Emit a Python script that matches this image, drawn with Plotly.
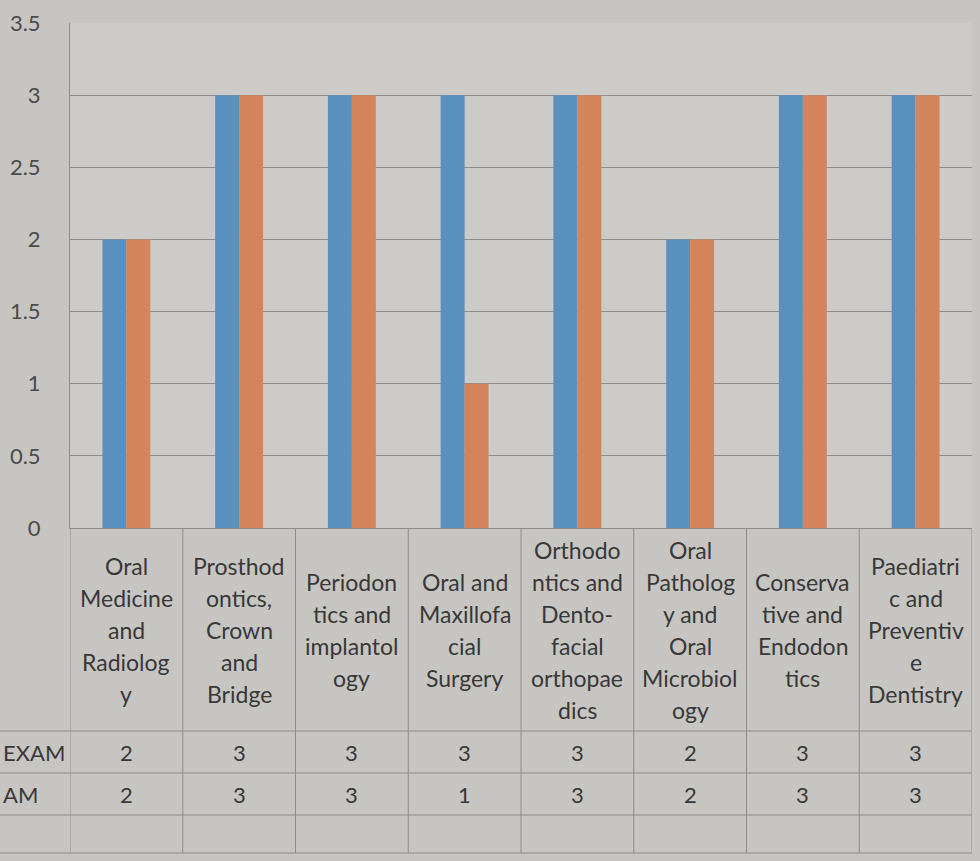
import plotly.graph_objects as go

categories = [
    "Oral Medicine and Radiology",
    "Prosthodontics, Crown and Bridge",
    "Periodontics and implantology",
    "Oral and Maxillofacial Surgery",
    "Orthodontics and Dento-facial orthopaedics",
    "Oral Pathology and Oral Microbiology",
    "Conservative and Endodontics",
    "Paediatric and Preventive Dentistry",
]
header_lines = [
    ["Oral", "Medicine", "and", "Radiolog", "y"],
    ["Prosthod", "ontics,", "Crown", "and", "Bridge"],
    ["Periodon", "tics and", "implantol", "ogy"],
    ["Oral and", "Maxillofa", "cial", "Surgery"],
    ["Orthodo", "ntics and", "Dento-", "facial", "orthopae", "dics"],
    ["Oral", "Patholog", "y and", "Oral", "Microbiol", "ogy"],
    ["Conserva", "tive and", "Endodon", "tics"],
    ["Paediatri", "c and", "Preventiv", "e", "Dentistry"],
]
series_names = ["EXAM", "AM"]
exam_values = [2, 3, 3, 3, 3, 2, 3, 3]
am_values = [2, 3, 3, 1, 3, 2, 3, 3]
y_ticks = [0, 0.5, 1, 1.5, 2, 2.5, 3, 3.5]

W, H = 980, 861
ML, MR, MT = 70, 8, 23
Y0PX = 528
PH = Y0PX - MT
PW = W - ML - MR

BG = "#c7c5c1"
BLUE = "#5a90be"
ORANGE = "#d4845a"
TXT = "#383838"
GRID = "#8c8c8c"
FONT = "Lato"

def py(p):
    return (Y0PX - p) / PH

def px(p):
    return (p - ML) / PW

fig = go.Figure()
fig.add_trace(go.Bar(x=categories, y=exam_values, name=series_names[0], marker_color=BLUE, marker_line_width=0))
fig.add_trace(go.Bar(x=categories, y=am_values, name=series_names[1], marker_color=ORANGE, marker_line_width=0))

shapes = []
annotations = []

top_px, hdr_px, r1_px, r2_px, bot_px = 528, 731, 773, 815, 853
for k in range(len(categories) + 1):
    shapes.append(dict(type="line", xref="x", yref="paper", x0=k - 0.5, x1=k - 0.5,
                       y0=py(top_px), y1=py(bot_px), line=dict(color=GRID, width=1)))
for p in [hdr_px, r1_px, r2_px, bot_px]:
    shapes.append(dict(type="line", xref="paper", yref="paper", x0=px(0), x1=1,
                       y0=py(p), y1=py(p), line=dict(color=GRID, width=1)))

LH = 32
HC = 630
for i, lines in enumerate(header_lines):
    n = len(lines)
    for j, t in enumerate(lines):
        yp = HC + (j - (n - 1) / 2) * LH
        annotations.append(dict(x=categories[i], xref="x", y=py(yp), yref="paper", text=t,
                                showarrow=False, xanchor="center", yanchor="middle",
                                font=dict(family=FONT, size=23, color=TXT)))

rows = [(exam_values, (hdr_px + r1_px) / 2), (am_values, (r1_px + r2_px) / 2)]
for (vals, yc), nm in zip(rows, series_names):
    for i, v in enumerate(vals):
        annotations.append(dict(x=categories[i], xref="x", y=py(yc), yref="paper", text=str(v),
                                showarrow=False, xanchor="center", yanchor="middle",
                                font=dict(family=FONT, size=22, color=TXT)))
    annotations.append(dict(x=px(1), xref="paper", y=py(yc), yref="paper", text=nm,
                            showarrow=False, xanchor="left", yanchor="middle",
                            font=dict(family=FONT, size=22, color=TXT)))

fig.update_layout(
    width=W, height=H,
    margin=dict(l=ML, r=MR, t=MT, b=H - Y0PX),
    paper_bgcolor=BG,
    plot_bgcolor="#cdcbc7",
    barmode="group",
    bargap=0.575,
    bargroupgap=0,
    showlegend=False,
    shapes=shapes,
    annotations=annotations,
    font=dict(family=FONT, color=TXT),
)
fig.update_xaxes(range=[-0.5, 7.5], showticklabels=False, showgrid=False, ticks="",
                 showline=True, linecolor=GRID, linewidth=1, zeroline=False)
fig.update_yaxes(range=[0, 3.5], tickvals=y_ticks, ticktext=[("%g" % v) for v in y_ticks],
                 showgrid=True, gridcolor=GRID, gridwidth=1, zeroline=False,
                 showline=True, linecolor=GRID, linewidth=1, ticks="",
                 ticklabelstandoff=24, tickfont=dict(family=FONT, size=22, color="#4a4a4a"))

fig.write_html(
    "out.html",
    config={"displayModeBar": False},
    post_script="document.body.style.margin='0';document.body.style.overflow='hidden';"
                "document.body.style.background='" + BG + "';",
)
